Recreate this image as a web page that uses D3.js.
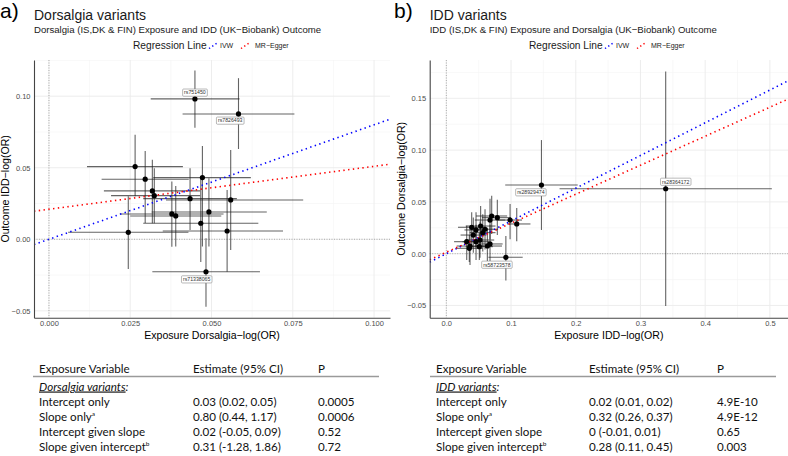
<!DOCTYPE html>
<html>
<head>
<meta charset="utf-8">
<script src="https://cdn.jsdelivr.net/npm/d3@7"></script>
<style>
  body { margin: 0; background: #fff; }
  svg { display: block; }
  .tick text { font-family: 'Liberation Sans', Arial, sans-serif; font-size: 7.5px; fill: #4d4d4d; }
</style>
</head>
<body>
<div id="chart"></div>
<script>
// panel a: Dorsalgia variants (exposure Dorsalgia, outcome IDD)
const aSnp = ['rs751450', 'rs7826493', '', '', '', '', '', '', '', '', '', '', '', '', '', 'rs71338065']
const aBx = [0.0449, 0.0583, 0.0265, 0.0296, 0.0472, 0.0318, 0.0324, 0.0434, 0.0559, 0.0378, 0.0390, 0.0492, 0.0467, 0.0548, 0.0244, 0.0483]
const aBxLo = [0.0313, 0.0411, 0.0117, 0.0162, 0.0321, 0.0169, 0.0191, 0.0290, 0.0360, 0.0218, 0.0250, 0.0316, 0.0290, 0.0350, 0.0059, 0.0318]
const aBxHi = [0.0586, 0.0755, 0.0412, 0.0430, 0.0621, 0.0465, 0.0465, 0.0578, 0.0782, 0.0537, 0.0530, 0.0670, 0.0644, 0.0720, 0.0429, 0.0649]
const aBy = [0.0981, 0.0876, 0.0508, 0.0420, 0.0431, 0.0338, 0.0305, 0.0284, 0.0275, 0.0177, 0.0163, 0.0191, 0.0112, 0.0058, 0.0049, -0.0227]
const aByLo = [0.078, 0.0631, 0.030, 0.0114, -0.005, 0.0112, 0.0112, 0.0065, -0.0075, -0.0052, -0.005, -0.005, -0.0159, -0.0227, -0.0208, -0.0471]
const aByHi = [0.118, 0.1126, 0.073, 0.0617, 0.0652, 0.0555, 0.0496, 0.0496, 0.0624, 0.0403, 0.0373, 0.0426, 0.044, 0.0345, 0.030, 0.0007]

// panel b: IDD variants (exposure IDD, outcome Dorsalgia)
const bSnp = ['rs28364172', 'rs28929474', 'rs58723578', '', '', '', '', '', '', '', '', '', '', '', '', '', '', '', '', '', '', '']
const bBx = [0.339, 0.147, 0.092, 0.0985, 0.1088, 0.0788, 0.0701, 0.0675, 0.053, 0.0392, 0.0459, 0.0598, 0.0563, 0.0417, 0.052, 0.0459, 0.0315, 0.0675, 0.0634, 0.0366, 0.0355, 0.051]
const bBxLo = [0.175, 0.091, 0.065, 0.080, 0.094, 0.055, 0.046, 0.044, 0.030, 0.018, 0.028, 0.040, 0.036, 0.022, 0.030, 0.025, 0.012, 0.048, 0.044, 0.016, 0.015, 0.030]
const bBxHi = [0.503, 0.203, 0.118, 0.117, 0.130, 0.100, 0.094, 0.091, 0.076, 0.060, 0.064, 0.080, 0.076, 0.062, 0.074, 0.066, 0.052, 0.087, 0.086, 0.058, 0.056, 0.072]
const bBy = [0.0627, 0.0663, -0.0035, 0.0325, 0.0287, 0.0348, 0.0364, 0.0325, 0.0267, 0.0255, 0.0229, 0.0236, 0.0203, 0.018, 0.0132, 0.0116, 0.0116, 0.0094, 0.0074, 0.0074, 0.0052, 0.0068]
const bByLo = [-0.0505, 0.0229, -0.026, 0.014, 0.012, 0.018, 0.019, 0.014, 0.008, 0.008, 0.006, 0.004, 0.002, 0.001, -0.004, -0.006, -0.006, -0.008, -0.010, -0.011, -0.008, -0.006]
const bByHi = [0.176, 0.1097, 0.017, 0.048, 0.044, 0.052, 0.056, 0.053, 0.046, 0.040, 0.040, 0.043, 0.038, 0.035, 0.031, 0.028, 0.027, 0.028, 0.025, 0.024, 0.018, 0.020]

// regression lines: [intercept, slope]
const aIvw = [0, 0.80]
const aEgger = [0.021, 0.30]
const bIvw = [0, 0.316]
const bEgger = [0.0014, 0.28]

const aXTicks = [0, 0.025, 0.05, 0.075, 0.1]
const aYTicks = [-0.05, 0, 0.05, 0.1]
const bXTicks = [0, 0.1, 0.2, 0.3, 0.4, 0.5]
const bYTicks = [-0.05, 0, 0.05, 0.1, 0.15]

const tableHeader = ['Exposure Variable', 'Estimate (95% CI)', 'P']
const tableRows = ['Intercept only', 'Slope only', 'Intercept given slope', 'Slope given intercept']
const tableSup = ['', 'a', '', 'b']
const aEstimates = ['0.03 (0.02, 0.05)', '0.80 (0.44, 1.17)', '0.02 (-0.05, 0.09)', '0.31 (-1.28, 1.86)']
const aP = ['0.0005', '0.0006', '0.52', '0.72']
const bEstimates = ['0.02 (0.01, 0.02)', '0.32 (0.26, 0.37)', '0 (-0.01, 0.01)', '0.28 (0.11, 0.45)']
const bP = ['4.9E-10', '4.9E-12', '0.65', '0.003']

const width = 788
const height = 456
const sans = "'Liberation Sans', Arial, sans-serif"
const tableFont = "Lato, 'Open Sans', sans-serif"
const minus = s => s.replace('-', '\u2212')

const svg = d3.select('#chart')
  .append('svg')
  .attr('width', width)
  .attr('height', height)

function panel (cfg) {
  const g = svg.append('g')
  const x = d3.scaleLinear().domain(cfg.xDomain).range(cfg.xRange)
  const y = d3.scaleLinear().domain(cfg.yDomain).range(cfg.yRange)

  // panel letter, title, subtitle
  g.append('text')
    .attr('x', cfg.letterX).attr('y', 18)
    .attr('font-family', sans).attr('font-size', 21)
    .text(cfg.letter)
  g.append('text')
    .attr('x', cfg.xRange[0]).attr('y', 20)
    .attr('font-family', sans).attr('font-size', 14).attr('fill', '#1a1a1a')
    .text(cfg.title)
  g.append('text')
    .attr('x', cfg.xRange[0]).attr('y', 33)
    .attr('font-family', sans).attr('font-size', 9.6).attr('fill', '#1a1a1a')
    .text(cfg.subtitle)

  // legend
  const leg = g.append('g').attr('transform', `translate(${cfg.legendX}, 45.5)`)
  leg.append('text')
    .attr('y', 3.5).attr('font-family', sans).attr('font-size', 10.2).attr('fill', '#1a1a1a')
    .text('Regression Line')
  const keys = [['IVW', '#0000ff', 76, 87], ['MR\u2212Egger', '#ff0000', 108, 122]]
  keys.forEach(([label, color, kx, tx]) => {
    leg.append('line')
      .attr('x1', kx).attr('y1', 3).attr('x2', kx + 9).attr('y2', -3)
      .attr('stroke', color).attr('stroke-width', 1.5)
      .attr('stroke-dasharray', '1.3,2.6')
    leg.append('text')
      .attr('x', tx).attr('y', 2.5)
      .attr('font-family', sans).attr('font-size', 7).attr('fill', '#1a1a1a')
      .text(label)
  })

  // grid
  const [x0, x1] = cfg.xRange
  const [y0, y1] = cfg.yRange
  const xMinor = d3.pairs(cfg.xTicks).map(([a, b]) => (a + b) / 2)
  const yMinor = d3.pairs(cfg.yTicks).map(([a, b]) => (a + b) / 2)
  const step = cfg.xTicks[1] - cfg.xTicks[0]
  xMinor.push(cfg.xTicks[cfg.xTicks.length - 1] + step / 2)
  const ystep = cfg.yTicks[1] - cfg.yTicks[0]
  yMinor.push(cfg.yTicks[cfg.yTicks.length - 1] + ystep / 2)
  const grid = g.append('g')
  grid.selectAll('.vminor').data(xMinor.filter(v => x(v) < x1)).join('line')
    .attr('x1', d => x(d)).attr('x2', d => x(d)).attr('y1', y1).attr('y2', y0)
    .attr('stroke', '#f3f3f3').attr('stroke-width', 0.6)
  grid.selectAll('.hminor').data(yMinor.filter(v => y(v) > y1)).join('line')
    .attr('x1', x0).attr('x2', x1).attr('y1', d => y(d)).attr('y2', d => y(d))
    .attr('stroke', '#f3f3f3').attr('stroke-width', 0.6)
  grid.selectAll('.vmajor').data(cfg.xTicks).join('line')
    .attr('x1', d => x(d)).attr('x2', d => x(d)).attr('y1', y1).attr('y2', y0)
    .attr('stroke', '#ebebeb').attr('stroke-width', 0.9)
  grid.selectAll('.hmajor').data(cfg.yTicks).join('line')
    .attr('x1', x0).attr('x2', x1).attr('y1', d => y(d)).attr('y2', d => y(d))
    .attr('stroke', '#ebebeb').attr('stroke-width', 0.9)

  // zero reference lines
  g.append('line')
    .attr('x1', x(0)).attr('x2', x(0)).attr('y1', y1).attr('y2', y0)
    .attr('stroke', '#9a9a9a').attr('stroke-width', 0.8).attr('stroke-dasharray', '1,1.5')
  g.append('line')
    .attr('x1', x0).attr('x2', x1).attr('y1', y(0)).attr('y2', y(0))
    .attr('stroke', '#9a9a9a').attr('stroke-width', 0.8).attr('stroke-dasharray', '1,1.5')

  // error bars
  const idx = d3.range(cfg.bx.length)
  const bars = g.append('g').attr('stroke', '#222').attr('stroke-opacity', 0.7).attr('stroke-width', 1.1)
  bars.selectAll('.h').data(idx).join('line')
    .attr('x1', i => x(cfg.bxLo[i])).attr('x2', i => x(cfg.bxHi[i]))
    .attr('y1', i => y(cfg.by[i])).attr('y2', i => y(cfg.by[i]))
  bars.selectAll('.v').data(idx).join('line')
    .attr('x1', i => x(cfg.bx[i])).attr('x2', i => x(cfg.bx[i]))
    .attr('y1', i => y(cfg.byLo[i])).attr('y2', i => y(cfg.byHi[i]))

  // regression lines
  const clipId = 'clip-' + cfg.letter[0]
  g.append('clipPath').attr('id', clipId)
    .append('rect').attr('x', x0).attr('y', y1).attr('width', x1 - x0).attr('height', y0 - y1)
  const lines = g.append('g').attr('clip-path', `url(#${clipId})`)
  ;[[cfg.ivw, '#0000ff'], [cfg.egger, '#ff0000']].forEach(([[a, b], color]) => {
    const xs = cfg.xDomain
    lines.append('line')
      .attr('x1', x(xs[0])).attr('y1', y(a + b * xs[0]))
      .attr('x2', x(xs[1])).attr('y2', y(a + b * xs[1]))
      .attr('stroke', color).attr('stroke-width', 1.6)
      .attr('stroke-dasharray', '1.4,3.4')
  })

  // points
  g.append('g').selectAll('circle').data(idx).join('circle')
    .attr('cx', i => x(cfg.bx[i])).attr('cy', i => y(cfg.by[i]))
    .attr('r', 2.6).attr('fill', '#000')

  // snp labels
  const labs = g.append('g')
  idx.filter(i => cfg.snp[i]).forEach(i => {
    const [dx, dy] = cfg.nudge[cfg.snp[i]]
    const cx = x(cfg.bx[i]) + dx
    const cy = y(cfg.by[i]) + dy
    const t = labs.append('text')
      .attr('x', cx).attr('y', cy + 1.8)
      .attr('text-anchor', 'middle')
      .attr('font-family', sans).attr('font-size', 5.2).attr('fill', '#333')
      .text(cfg.snp[i])
    const bb = t.node().getBBox()
    labs.insert('rect', 'text')
      .attr('x', bb.x - 1.5).attr('y', cy - 3.6)
      .attr('width', bb.width + 3).attr('height', 7.2)
      .attr('rx', 1).attr('fill', '#fff').attr('stroke', '#8a8a8a').attr('stroke-width', 0.6)
  })

  // axes
  const xAxis = d3.axisBottom(x).tickValues(cfg.xTicks).tickSize(0).tickPadding(2.5)
    .tickFormat(d => minus(d3.format(cfg.xFmt)(d)))
  const yAxis = d3.axisLeft(y).tickValues(cfg.yTicks).tickSize(0).tickPadding(3.5)
    .tickFormat(d => minus(d3.format('.2f')(d)))
  const gx = g.append('g').attr('transform', `translate(0, ${y0})`).call(xAxis)
  const gy = g.append('g').attr('transform', `translate(${x0}, 0)`).call(yAxis)
  ;[gx, gy].forEach(ax => ax.select('.domain').attr('stroke', '#444').attr('stroke-width', 1.1))

  g.append('text')
    .attr('x', (x0 + x1) / 2).attr('y', 339)
    .attr('text-anchor', 'middle').attr('font-family', sans).attr('font-size', 10.6)
    .text(cfg.xTitle)
  g.append('text')
    .attr('transform', `translate(${cfg.xRange[0] - 25}, ${(y0 + y1) / 2}) rotate(-90)`)
    .attr('text-anchor', 'middle').attr('font-family', sans).attr('font-size', 10.6)
    .text(cfg.yTitle)
}

function table (cfg) {
  const g = svg.append('g').attr('font-family', tableFont).attr('font-size', 11.6).attr('fill', '#111')
  const cols = cfg.cols
  tableHeader.forEach((h, j) => {
    g.append('text').attr('x', cols[j]).attr('y', 373).text(h)
  })
  g.append('line')
    .attr('x1', cfg.ruleX[0]).attr('x2', cfg.ruleX[1]).attr('y1', 376.5).attr('y2', 376.5)
    .attr('stroke', '#9a9a9a').attr('stroke-width', 1.6)
  const grp = g.append('text').attr('x', cols[0]).attr('y', 390.5).attr('font-style', 'italic')
  grp.append('tspan').attr('text-decoration', 'underline').text(cfg.group)
  grp.append('tspan').text(':')
  tableRows.forEach((r, i) => {
    const yy = 405.5 + i * 15
    const t = g.append('text').attr('x', cols[0]).attr('y', yy).text(r)
    if (tableSup[i]) {
      t.append('tspan').attr('dy', -5).attr('font-size', 6.5).text(tableSup[i])
    }
    g.append('text').attr('x', cols[1]).attr('y', yy).text(cfg.est[i])
    g.append('text').attr('x', cols[2]).attr('y', yy).text(cfg.p[i])
  })
}

panel({
  letter: 'a)', letterX: 0, legendX: 133,
  title: 'Dorsalgia variants',
  subtitle: 'Dorsalgia (IS,DK & FIN) Exposure and IDD (UK\u2212Biobank) Outcome',
  xTitle: 'Exposure Dorsalgia\u2212log(OR)', yTitle: 'Outcome IDD\u2212log(OR)',
  xDomain: [-0.0046, 0.1049], xRange: [34, 390],
  yDomain: [-0.0548, 0.1253], yRange: [317.7, 60],
  xTicks: aXTicks, yTicks: aYTicks, xFmt: '.3f',
  snp: aSnp, bx: aBx, bxLo: aBxLo, bxHi: aBxHi, by: aBy, byLo: aByLo, byHi: aByHi,
  ivw: aIvw, egger: aEgger,
  nudge: { rs751450: [0, -6.3], rs7826493: [-8.3, 6.7], rs71338065: [-9.3, 7.6] }
})

panel({
  letter: 'b)', letterX: 394, legendX: 529,
  title: 'IDD variants',
  subtitle: 'IDD (IS,DK & FIN) Exposure and Dorsalgia (UK\u2212Biobank) Outcome',
  xTitle: 'Exposure IDD\u2212log(OR)', yTitle: 'Outcome Dorsalgia\u2212log(OR)',
  xDomain: [-0.0257, 0.528], xRange: [429.7, 788],
  yDomain: [-0.0618, 0.187], yRange: [317.7, 60],
  xTicks: bXTicks, yTicks: bYTicks, xFmt: '.1f',
  snp: bSnp, bx: bBx, bxLo: bBxLo, bxHi: bBxHi, by: bBy, byLo: bByLo, byHi: bByHi,
  ivw: bIvw, egger: bEgger,
  nudge: { rs28364172: [10, -7], rs28929474: [-10.6, 7.3], rs58723578: [-9, 7.4] }
})

table({ cols: [39, 193, 318], ruleX: [33, 379], group: 'Dorsalgia variants', est: aEstimates, p: aP })
table({ cols: [436, 589, 717], ruleX: [430, 776], group: 'IDD variants', est: bEstimates, p: bP })
</script>
</body>
</html>
